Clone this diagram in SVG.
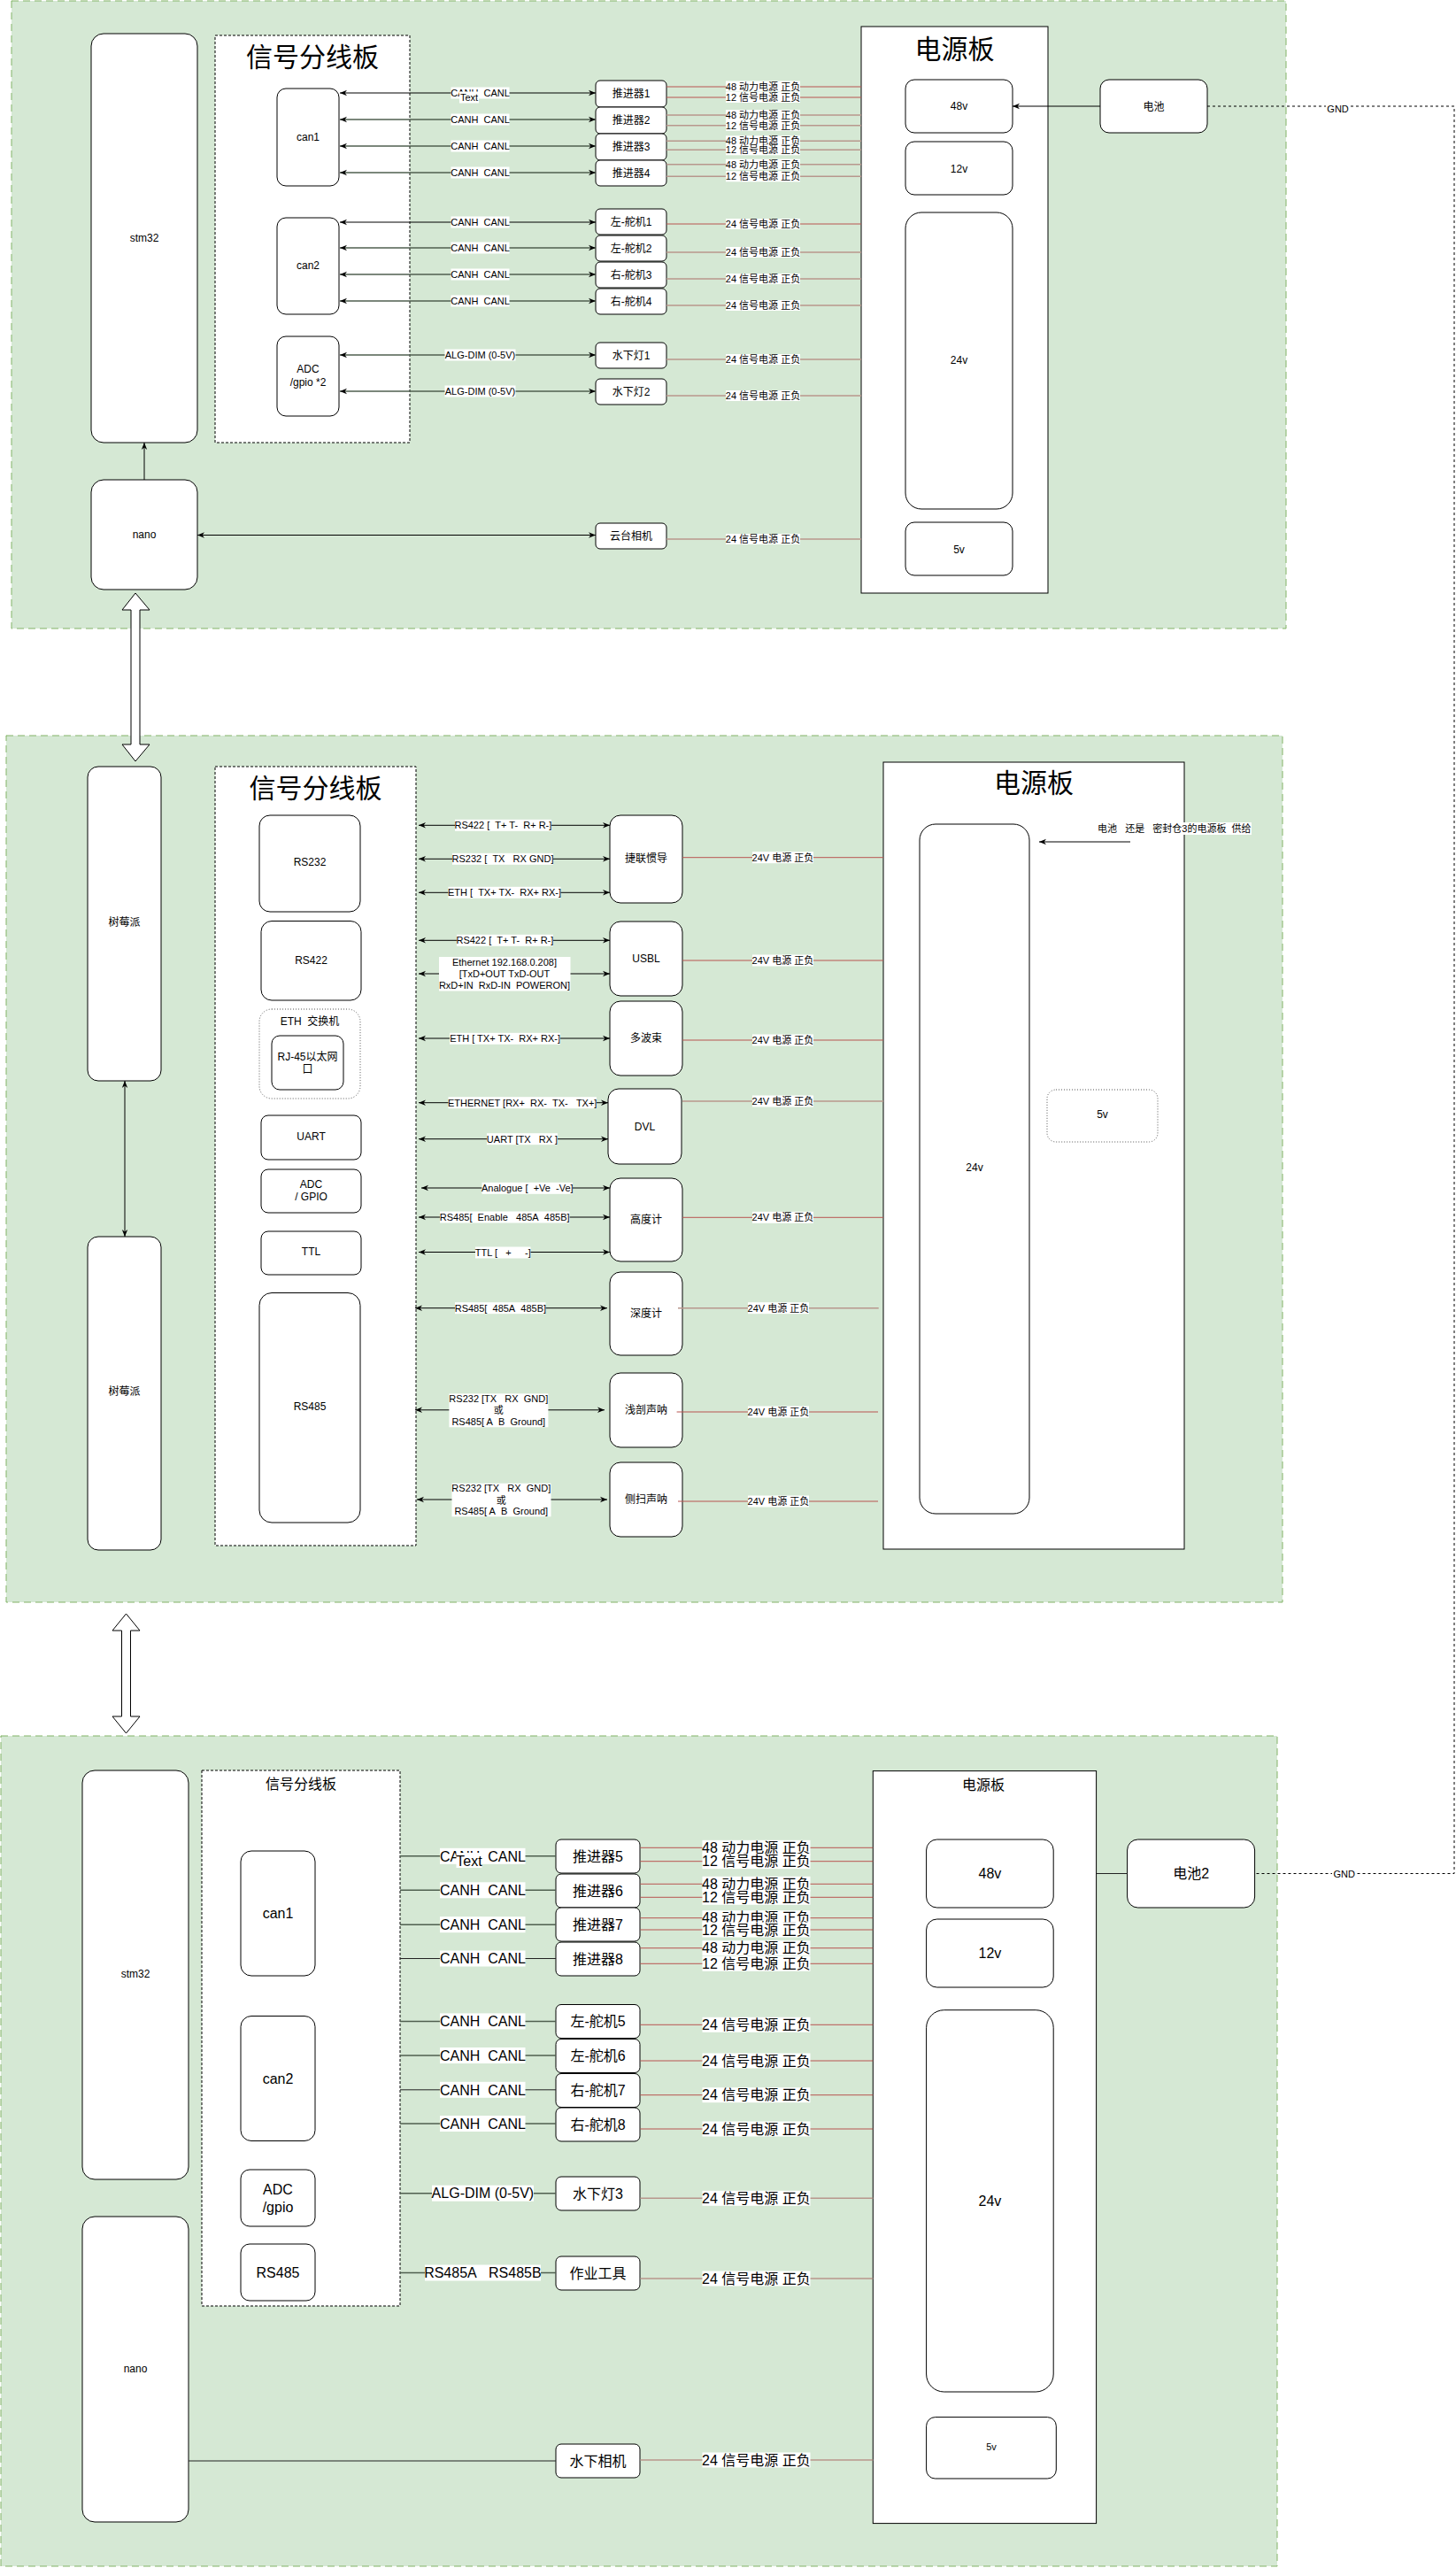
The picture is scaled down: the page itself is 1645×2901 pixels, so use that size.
<svg xmlns="http://www.w3.org/2000/svg" width="1645" height="2901" viewBox="0 0 1645 2901">
<style>
.cont{fill:#d5e8d4;stroke:#82b366;stroke-dasharray:8 5}
.board{fill:#fff;stroke:#000;stroke-dasharray:3 2}
.node{fill:#fff;stroke:#000}
.dot{fill:#fff;stroke:#555;stroke-dasharray:1 2}
.t{font-family:"Liberation Sans",Arial,"Noto Sans CJK SC",sans-serif;text-anchor:middle;fill:#000}
.ts{font-family:"Liberation Sans",Arial,"Noto Sans CJK SC",sans-serif;fill:#000}
.f11{font-size:11px}.f12{font-size:12px}.f16{font-size:16px}.f30{font-size:30px}
.sa{stroke:#000;fill:none;marker-start:url(#ar);marker-end:url(#ar)}
.sg{stroke:#4f5f4f;stroke-width:1.5;fill:none;marker-start:url(#ar);marker-end:url(#ar)}
.se{stroke:#000;fill:none;marker-end:url(#ar)}
.ln{stroke:#4f5f4f;stroke-width:1.5;fill:none}
.lnb{stroke:#222;fill:none}
.pw{stroke:#b85450;fill:none}
.pw2{stroke:#b8978d;stroke-width:1.5;fill:none}
.gnd{stroke:#000;fill:none;stroke-dasharray:3 3}
.bg{fill:#fff}
</style>
<defs>
<marker id="ar" viewBox="0 0 10 10" refX="10" refY="5" markerWidth="8" markerHeight="8" markerUnits="userSpaceOnUse" orient="auto-start-reverse"><path d="M0,1 L10,5 L0,9 L3,5 z" fill="#000"/></marker>
</defs>
<rect class="cont" x="13" y="1" width="1440" height="709"/>
<rect class="cont" x="7" y="831" width="1442" height="979"/>
<rect class="cont" x="1" y="1961" width="1442" height="938"/>
<g id="s1-board"><rect class="board" x="243" y="40" width="220" height="460"/><text class="t f30" x="353" y="75">信号分线板</text></g>
<g id="s1-power"><rect class="node" x="973" y="30" width="211" height="640"/><text class="t f30" x="1078.5" y="66">电源板</text></g>
<g id="s1-stm32"><rect class="node" x="103" y="38" width="120" height="462" rx="14"/><text class="t f12" x="163" y="273">stm32</text></g>
<g id="s1-nano"><rect class="node" x="103" y="542" width="120" height="124" rx="14"/><text class="t f12" x="163" y="608">nano</text></g>
<g id="s1-can1"><rect class="node" x="313" y="100" width="70" height="110" rx="10"/><text class="t f12" x="348" y="159">can1</text></g>
<g id="s1-can2"><rect class="node" x="313" y="246" width="70" height="109" rx="10"/><text class="t f12" x="348" y="304">can2</text></g>
<g id="s1-adc"><rect class="node" x="313" y="380" width="70" height="90" rx="10"/><text class="t f12" x="348" y="421">ADC</text><text class="t f12" x="348" y="436">/gpio *2</text></g>
<g id="s1-t1"><rect class="node" x="673" y="91" width="80" height="30" rx="5"/><text class="t f12" x="713" y="110">推进器1</text></g>
<g id="s1-t2"><rect class="node" x="673" y="121" width="80" height="30" rx="5"/><text class="t f12" x="713" y="140">推进器2</text></g>
<g id="s1-t3"><rect class="node" x="673" y="151" width="80" height="30" rx="5"/><text class="t f12" x="713" y="170">推进器3</text></g>
<g id="s1-t4"><rect class="node" x="673" y="181" width="80" height="29" rx="5"/><text class="t f12" x="713" y="200">推进器4</text></g>
<g id="s1-s1"><rect class="node" x="673" y="236" width="80" height="29" rx="5"/><text class="t f12" x="713" y="255">左-舵机1</text></g>
<g id="s1-s2"><rect class="node" x="673" y="266" width="80" height="29" rx="5"/><text class="t f12" x="713" y="285">左-舵机2</text></g>
<g id="s1-s3"><rect class="node" x="673" y="296" width="80" height="29" rx="5"/><text class="t f12" x="713" y="315">右-舵机3</text></g>
<g id="s1-s4"><rect class="node" x="673" y="326" width="80" height="29" rx="5"/><text class="t f12" x="713" y="345">右-舵机4</text></g>
<g id="s1-l1"><rect class="node" x="673" y="387" width="80" height="29" rx="5"/><text class="t f12" x="713" y="406">水下灯1</text></g>
<g id="s1-l2"><rect class="node" x="673" y="428" width="80" height="29" rx="5"/><text class="t f12" x="713" y="447">水下灯2</text></g>
<g id="s1-cam"><rect class="node" x="673" y="591" width="80" height="29" rx="5"/><text class="t f12" x="713" y="610">云台相机</text></g>
<g id="s1-48v"><rect class="node" x="1023" y="90" width="121" height="60" rx="10"/><text class="t f12" x="1083.5" y="124">48v</text></g>
<g id="s1-12v"><rect class="node" x="1023" y="160" width="121" height="60" rx="10"/><text class="t f12" x="1083.5" y="194.5">12v</text></g>
<g id="s1-24v"><rect class="node" x="1023" y="240" width="121" height="335" rx="18"/><text class="t f12" x="1083.5" y="411">24v</text></g>
<g id="s1-5v"><rect class="node" x="1023" y="590" width="121" height="60" rx="10"/><text class="t f12" x="1083.5" y="624.5">5v</text></g>
<g id="s1-bat"><rect class="node" x="1243" y="90" width="121" height="60" rx="10"/><text class="t f12" x="1303.5" y="124.5">电池</text></g>
<g id="s2-board"><rect class="board" x="243" y="866" width="227" height="880"/><text class="t f30" x="356.5" y="901">信号分线板</text></g>
<g id="s2-power"><rect class="node" x="998" y="861" width="340" height="889"/><text class="t f30" x="1168" y="895">电源板</text></g>
<g id="s2-rpi1"><rect class="node" x="99" y="866" width="83" height="355" rx="12"/><text class="t f12" x="140.5" y="1046">树莓派</text></g>
<g id="s2-rpi2"><rect class="node" x="99" y="1397" width="83" height="354" rx="12"/><text class="t f12" x="140.5" y="1576">树莓派</text></g>
<g id="s2-rs232"><rect class="node" x="293" y="921" width="114" height="109" rx="12"/><text class="t f12" x="350" y="978">RS232</text></g>
<g id="s2-rs422"><rect class="node" x="295" y="1040.5" width="113" height="89.5" rx="12"/><text class="t f12" x="351.5" y="1088.5">RS422</text></g>
<g id="s2-eth"><rect class="dot" x="293" y="1140" width="114" height="101" rx="14"/><text class="t f12" x="350" y="1158">ETH&#160;&#160;交换机</text><rect class="node" x="307" y="1170" width="81" height="61" rx="9"/><text class="t f12" x="347.5" y="1197.5">RJ-45以太网</text><text class="t f12" x="347.5" y="1211.5">口</text></g>
<g id="s2-uart"><rect class="node" x="295" y="1260" width="113" height="50" rx="8"/><text class="t f12" x="351.5" y="1288">UART</text></g>
<g id="s2-adc"><rect class="node" x="295" y="1321" width="113" height="49" rx="8"/><text class="t f12" x="351.5" y="1341.5">ADC</text><text class="t f12" x="351.5" y="1355.5">/ GPIO</text></g>
<g id="s2-ttl"><rect class="node" x="295" y="1391" width="113" height="49" rx="8"/><text class="t f12" x="351.5" y="1418">TTL</text></g>
<g id="s2-rs485"><rect class="node" x="293" y="1460.5" width="114" height="259.5" rx="14"/><text class="t f12" x="350" y="1593">RS485</text></g>
<g id="s2-ins"><rect class="node" x="689" y="921" width="82" height="99" rx="12"/><text class="t f12" x="730" y="974">捷联惯导</text></g>
<g id="s2-usbl"><rect class="node" x="689" y="1041" width="82" height="84" rx="12"/><text class="t f12" x="730" y="1087">USBL</text></g>
<g id="s2-mb"><rect class="node" x="689" y="1131" width="82" height="84" rx="12"/><text class="t f12" x="730" y="1177">多波束</text></g>
<g id="s2-dvl"><rect class="node" x="687" y="1230" width="83" height="85" rx="12"/><text class="t f12" x="728.5" y="1276.5">DVL</text></g>
<g id="s2-alt"><rect class="node" x="689" y="1331" width="82" height="94" rx="12"/><text class="t f12" x="730" y="1382">高度计</text></g>
<g id="s2-depth"><rect class="node" x="689" y="1437" width="82" height="94" rx="12"/><text class="t f12" x="730" y="1488">深度计</text></g>
<g id="s2-sbp"><rect class="node" x="689" y="1551" width="82" height="84" rx="12"/><text class="t f12" x="730" y="1597">浅剖声呐</text></g>
<g id="s2-sss"><rect class="node" x="689" y="1652" width="82" height="84" rx="12"/><text class="t f12" x="730" y="1698">侧扫声呐</text></g>
<g id="s2-24v"><rect class="node" x="1039" y="931" width="124" height="779" rx="18"/><text class="t f12" x="1101" y="1323">24v</text></g>
<g id="s2-5v"><rect class="dot" x="1183" y="1231" width="125" height="59" rx="10"/><text class="t f12" x="1245.5" y="1263">5v</text></g>
<g id="s2-note"><rect class="bg" x="1238" y="929" width="176" height="14"/><text class="ts f11" x="1240" y="940">电池&#160;&#160;&#160;还是&#160;&#160;&#160;密封仓3的电源板&#160;&#160;供给</text></g>
<g id="s3-board"><rect class="board" x="228" y="2000" width="224" height="605"/><text class="t f16" x="340" y="2021">信号分线板</text></g>
<g id="s3-power"><rect class="node" x="986.3" y="2000.6" width="252.3" height="850"/><text class="t f16" x="1111" y="2022">电源板</text></g>
<g id="s3-stm32"><rect class="node" x="93" y="2000" width="120" height="462" rx="14"/><text class="t f12" x="153" y="2234">stm32</text></g>
<g id="s3-nano"><rect class="node" x="93" y="2504" width="120" height="345" rx="14"/><text class="t f12" x="153" y="2680">nano</text></g>
<g id="s3-can1"><rect class="node" x="272" y="2091" width="84" height="141" rx="12"/><text class="t f16" x="314" y="2166.5">can1</text></g>
<g id="s3-can2"><rect class="node" x="272" y="2277.5" width="84" height="141" rx="12"/><text class="t f16" x="314" y="2353.5">can2</text></g>
<g id="s3-adc"><rect class="node" x="272" y="2451" width="84" height="64" rx="10"/><text class="t f16" x="314" y="2478.5">ADC</text><text class="t f16" x="314" y="2498.5">/gpio</text></g>
<g id="s3-rs485"><rect class="node" x="272" y="2535" width="84" height="64" rx="10"/><text class="t f16" x="314" y="2572.5">RS485</text></g>
<g id="s3-t5"><rect class="node" x="628" y="2078" width="95" height="38" rx="6"/><text class="t f16" x="675.5" y="2102.5">推进器5</text></g>
<g id="s3-t6"><rect class="node" x="628" y="2117" width="95" height="38" rx="6"/><text class="t f16" x="675.5" y="2141.5">推进器6</text></g>
<g id="s3-t7"><rect class="node" x="628" y="2155" width="95" height="38" rx="6"/><text class="t f16" x="675.5" y="2179.5">推进器7</text></g>
<g id="s3-t8"><rect class="node" x="628" y="2194" width="95" height="38" rx="6"/><text class="t f16" x="675.5" y="2218.5">推进器8</text></g>
<g id="s3-s5"><rect class="node" x="628" y="2264.5" width="95" height="38" rx="6"/><text class="t f16" x="675.5" y="2289">左-舵机5</text></g>
<g id="s3-s6"><rect class="node" x="628" y="2303.5" width="95" height="38" rx="6"/><text class="t f16" x="675.5" y="2328">左-舵机6</text></g>
<g id="s3-s7"><rect class="node" x="628" y="2342.5" width="95" height="38" rx="6"/><text class="t f16" x="675.5" y="2367">右-舵机7</text></g>
<g id="s3-s8"><rect class="node" x="628" y="2381" width="95" height="38" rx="6"/><text class="t f16" x="675.5" y="2405.5">右-舵机8</text></g>
<g id="s3-l3"><rect class="node" x="628" y="2459" width="95" height="38" rx="6"/><text class="t f16" x="675.5" y="2483.5">水下灯3</text></g>
<g id="s3-tool"><rect class="node" x="628" y="2549" width="95" height="38" rx="6"/><text class="t f16" x="675.5" y="2573.5">作业工具</text></g>
<g id="s3-cam"><rect class="node" x="628" y="2761" width="95" height="38" rx="6"/><text class="t f16" x="675.5" y="2785.5">水下相机</text></g>
<g id="s3-48v"><rect class="node" x="1046.6" y="2078" width="143.6" height="77" rx="12"/><text class="t f16" x="1118.4" y="2122">48v</text></g>
<g id="s3-12v"><rect class="node" x="1046.6" y="2168" width="143.6" height="77" rx="12"/><text class="t f16" x="1118.4" y="2212">12v</text></g>
<g id="s3-24v"><rect class="node" x="1046.6" y="2270.7" width="143.6" height="431.3" rx="20"/><text class="t f16" x="1118.4" y="2492">24v</text></g>
<g id="s3-5v"><rect class="node" x="1046.6" y="2730.6" width="146.7" height="69.4" rx="10"/><text class="t f11" x="1120" y="2768">5v</text></g>
<g id="s3-bat"><rect class="node" x="1273.6" y="2078" width="144" height="77" rx="12"/><text class="t f16" x="1345.6" y="2122">电池2</text></g>
<g id="connectors">
<polygon points="153,670 169,689 158,689 158,841 169,841 153,860 138,841 148,841 148,689 138,689" fill="#fff" stroke="#000"/>
<polygon points="142.5,1823 158,1842 147.5,1842 147.5,1939 158,1939 142.5,1958 127,1939 137.5,1939 137.5,1842 127,1842" fill="#fff" stroke="#000"/>
<path class="se" d="M163,542V500"/>
<path class="sa" d="M384,105H673"/>
<path class="sg" d="M384,135H673"/>
<path class="sg" d="M384,165H673"/>
<path class="sg" d="M384,195H673"/>
<path class="sa" d="M384,251H673"/>
<path class="sg" d="M384,280H673"/>
<path class="sg" d="M384,310H673"/>
<path class="sg" d="M384,340H673"/>
<path class="sg" d="M384,401H673"/>
<path class="sg" d="M384,442H673"/>
<path class="sa" d="M223,604.5H673"/>
<path class="se" d="M1243,120H1144"/>
<path class="gnd" d="M1364,120H1643V2116.5H1418"/>
<path class="pw" d="M753,98H973"/><path class="pw" d="M753,110H973"/>
<path class="pw2" d="M753,130H973"/><path class="pw2" d="M753,141.7H973"/>
<path class="pw2" d="M753,159.3H973"/><path class="pw2" d="M753,169.3H973"/>
<path class="pw2" d="M753,185.7H973"/><path class="pw2" d="M753,199.3H973"/>
<path class="pw" d="M753,253H973"/><path class="pw2" d="M753,285H973"/>
<path class="pw2" d="M753,315H973"/><path class="pw2" d="M753,345H973"/>
<path class="pw2" d="M753,406H973"/><path class="pw2" d="M753,447H973"/>
<path class="pw2" d="M753,609H973"/>
<g class="t f11">
<rect class="bg" x="509.5" y="98.5" width="66" height="13"/><text x="542.5" y="109">CANH&#160;&#160;CANL</text>
<rect class="bg" x="519" y="103.5" width="22" height="13"/><text x="530" y="114">Text</text>
<rect class="bg" x="509.5" y="128.5" width="66" height="13"/><text x="542.5" y="139">CANH&#160;&#160;CANL</text>
<rect class="bg" x="509.5" y="158.5" width="66" height="13"/><text x="542.5" y="169">CANH&#160;&#160;CANL</text>
<rect class="bg" x="509.5" y="188.5" width="66" height="13"/><text x="542.5" y="199">CANH&#160;&#160;CANL</text>
<rect class="bg" x="509.5" y="244.5" width="66" height="13"/><text x="542.5" y="255">CANH&#160;&#160;CANL</text>
<rect class="bg" x="509.5" y="273.5" width="66" height="13"/><text x="542.5" y="284">CANH&#160;&#160;CANL</text>
<rect class="bg" x="509.5" y="303.5" width="66" height="13"/><text x="542.5" y="314">CANH&#160;&#160;CANL</text>
<rect class="bg" x="509.5" y="333.5" width="66" height="13"/><text x="542.5" y="344">CANH&#160;&#160;CANL</text>
<rect class="bg" x="502.5" y="394.5" width="80" height="13"/><text x="542.5" y="405">ALG-DIM (0-5V)</text>
<rect class="bg" x="502.5" y="435.5" width="80" height="13"/><text x="542.5" y="446">ALG-DIM (0-5V)</text>
<rect class="bg" x="820" y="91.5" width="84" height="12"/><text x="862" y="102">48 动力电源 正负</text>
<rect class="bg" x="820" y="104" width="84" height="12"/><text x="862" y="114">12 信号电源 正负</text>
<rect class="bg" x="820" y="124" width="84" height="12"/><text x="862" y="134">48 动力电源 正负</text>
<rect class="bg" x="820" y="135.7" width="84" height="12"/><text x="862" y="145.7">12 信号电源 正负</text>
<rect class="bg" x="820" y="153.3" width="84" height="12"/><text x="862" y="163.3">48 动力电源 正负</text>
<rect class="bg" x="820" y="163.3" width="84" height="12"/><text x="862" y="173.3">12 信号电源 正负</text>
<rect class="bg" x="820" y="179.7" width="84" height="12"/><text x="862" y="189.7">48 动力电源 正负</text>
<rect class="bg" x="820" y="193.3" width="84" height="12"/><text x="862" y="203.3">12 信号电源 正负</text>
<rect class="bg" x="820" y="247" width="84" height="12"/><text x="862" y="257">24 信号电源 正负</text>
<rect class="bg" x="820" y="279" width="84" height="12"/><text x="862" y="289">24 信号电源 正负</text>
<rect class="bg" x="820" y="309" width="84" height="12"/><text x="862" y="319">24 信号电源 正负</text>
<rect class="bg" x="820" y="339" width="84" height="12"/><text x="862" y="349">24 信号电源 正负</text>
<rect class="bg" x="820" y="400" width="84" height="12"/><text x="862" y="410">24 信号电源 正负</text>
<rect class="bg" x="820" y="441" width="84" height="12"/><text x="862" y="451">24 信号电源 正负</text>
<rect class="bg" x="820" y="603" width="84" height="12"/><text x="862" y="613">24 信号电源 正负</text>
<rect class="bg" x="1498" y="117" width="27" height="13"/><text x="1511.6" y="127">GND</text>
<rect class="bg" x="1505" y="2110" width="27" height="13"/><text x="1518.7" y="2120.5">GND</text>
</g>
<path class="sa" d="M141,1221V1397"/>
<path class="sa" d="M473,932.3H689"/>
<path class="sa" d="M473,970.3H689"/>
<path class="sa" d="M473,1008.3H689"/>
<path class="sa" d="M473,1062.3H689"/>
<path class="sa" d="M473,1100H689"/>
<path class="sa" d="M473,1173H689"/>
<path class="sa" d="M473,1245.7H687"/>
<path class="sa" d="M473,1286.7H687"/>
<path class="sa" d="M476,1342H689"/>
<path class="sa" d="M473,1375H689"/>
<path class="sa" d="M473,1414.5H689"/>
<path class="sa" d="M469,1477.7H686"/>
<path class="sa" d="M469,1592.8H683"/>
<path class="sa" d="M471,1694H686"/>
<path class="se" d="M1277,951H1174"/>
<path class="pw" d="M771,968.7H998"/>
<path class="pw" d="M771,1085H998"/>
<path class="pw" d="M771,1175H998"/>
<path class="pw2" d="M771,1244H998"/>
<path class="pw" d="M771,1375.3H998"/>
<path class="pw2" d="M766,1477.7H992.7"/>
<path class="pw" d="M764.6,1595H992"/>
<path class="pw" d="M766,1696H992"/>
<g class="t f11">
<rect class="bg" x="514" y="925.8" width="109" height="13"/><text x="568.4" y="936.3">RS422 [&#160;&#160;T+ T-&#160;&#160;R+ R-]</text>
<rect class="bg" x="511" y="963.8" width="114" height="13"/><text x="568" y="974.3">RS232 [&#160;&#160;TX&#160;&#160;&#160;RX GND]</text>
<rect class="bg" x="506.5" y="1001.8" width="127" height="13"/><text x="570" y="1012.3">ETH [&#160;&#160;TX+ TX-&#160;&#160;RX+ RX-]</text>
<rect class="bg" x="516" y="1055.8" width="109" height="13"/><text x="570.4" y="1066.3">RS422 [&#160;&#160;T+ T-&#160;&#160;R+ R-]</text>
<rect class="bg" x="496" y="1081" width="148.5" height="38.5"/>
<text x="570" y="1091.3">Ethernet 192.168.0.208]</text><text x="570" y="1104">[TxD+OUT TxD-OUT</text><text x="570" y="1117.3">RxD+IN&#160;&#160;RxD-IN&#160;&#160;POWERON]</text>
<rect class="bg" x="508" y="1166.8" width="125" height="13"/><text x="570.6" y="1177.3">ETH [ TX+ TX-&#160;&#160;RX+ RX-]</text>
<rect class="bg" x="506.5" y="1239.2" width="167.5" height="13"/><text x="590.2" y="1249.7">ETHERNET [RX+&#160;&#160;RX-&#160;&#160;TX-&#160;&#160;&#160;TX+]</text>
<rect class="bg" x="550" y="1280.2" width="80" height="13"/><text x="590" y="1290.7">UART [TX&#160;&#160;&#160;RX ]</text>
<rect class="bg" x="544.5" y="1335.8" width="102.5" height="13"/><text x="595.8" y="1346.3">Analogue [&#160;&#160;+Ve&#160;&#160;-Ve]</text>
<rect class="bg" x="497" y="1368.5" width="146.5" height="13"/><text x="570.2" y="1379">RS485[&#160;&#160;Enable&#160;&#160;&#160;485A&#160;&#160;485B]</text>
<rect class="bg" x="537" y="1408.5" width="62.5" height="13"/><text x="568.3" y="1419">TTL [&#160;&#160;&#160;+&#160;&#160;&#160;&#160;&#160;-]</text>
<rect class="bg" x="514" y="1471.2" width="102.5" height="13"/><text x="565.4" y="1481.7">RS485[&#160;&#160;485A&#160;&#160;485B]</text>
<rect class="bg" x="507.4" y="1574.3" width="112" height="38"/>
<text x="563.3" y="1584">RS232 [TX&#160;&#160;&#160;RX&#160;&#160;GND]</text><text x="563.3" y="1597.3">或</text><text x="563.3" y="1610">RS485[ A&#160;&#160;B&#160;&#160;Ground]</text>
<rect class="bg" x="510.5" y="1675.7" width="112" height="37.6"/>
<text x="566.3" y="1684.7">RS232 [TX&#160;&#160;&#160;RX&#160;&#160;GND]</text><text x="566.3" y="1698.7">或</text><text x="566.3" y="1710.7">RS485[ A&#160;&#160;B&#160;&#160;Ground]</text>
<rect class="bg" x="850" y="962.2" width="69" height="13"/><text x="884.4" y="972.7">24V 电源 正负</text>
<rect class="bg" x="850" y="1078.5" width="69" height="13"/><text x="884.4" y="1089">24V 电源 正负</text>
<rect class="bg" x="850" y="1168.5" width="69" height="13"/><text x="884.4" y="1179">24V 电源 正负</text>
<rect class="bg" x="850" y="1237.5" width="69" height="13"/><text x="884.4" y="1248">24V 电源 正负</text>
<rect class="bg" x="850" y="1368.8" width="69" height="13"/><text x="884.4" y="1379.3">24V 电源 正负</text>
<rect class="bg" x="845" y="1471.2" width="69" height="13"/><text x="879.4" y="1481.7">24V 电源 正负</text>
<rect class="bg" x="845" y="1588.5" width="69" height="13"/><text x="879.4" y="1599">24V 电源 正负</text>
<rect class="bg" x="845" y="1689.5" width="69" height="13"/><text x="879.4" y="1700">24V 电源 正负</text>
</g>
<path class="ln" d="M452,2096.8H628"/>
<path class="ln" d="M452,2135.3H628"/>
<path class="ln" d="M452,2174.2H628"/>
<path class="lnb" d="M452,2212.5H628"/>
<path class="ln" d="M452,2283.4H628"/>
<path class="ln" d="M452,2322H628"/>
<path class="lnb" d="M452,2360.8H628"/>
<path class="ln" d="M452,2399H628"/>
<path class="ln" d="M452,2477.7H628"/>
<path class="ln" d="M452,2567.5H628"/>
<path class="lnb" d="M213,2780H628"/>
<path class="lnb" d="M1238.6,2116.5H1273.6"/>
<path class="pw" d="M723.4,2087.3H986.3"/><path class="pw" d="M723.4,2102.7H986.3"/>
<path class="pw" d="M723.4,2128.3H986.3"/><path class="pw" d="M723.4,2143.3H986.3"/>
<path class="pw" d="M723.4,2166.7H986.3"/><path class="pw" d="M723.4,2180H986.3"/>
<path class="pw" d="M723.4,2200.7H986.3"/><path class="pw" d="M723.4,2218.3H986.3"/>
<path class="pw" d="M723.4,2287.3H986.3"/><path class="pw" d="M723.4,2328H986.3"/>
<path class="pw" d="M723.4,2366.7H986.3"/><path class="pw" d="M723.4,2405H986.3"/>
<path class="pw2" d="M723.4,2483.3H986.3"/><path class="pw2" d="M723.4,2574H986.3"/>
<path class="pw2" d="M723.4,2779H986.3"/>
<g class="t f16">
<rect class="bg" x="497" y="2087.8" width="96.5" height="18"/><text x="545.4" y="2102.5">CANH&#160;&#160;CANL</text>
<rect class="bg" x="515.5" y="2093" width="29" height="17"/><text x="530" y="2107.5">Text</text>
<rect class="bg" x="497" y="2126.3" width="96.5" height="18"/><text x="545.4" y="2141">CANH&#160;&#160;CANL</text>
<rect class="bg" x="497" y="2165.2" width="96.5" height="18"/><text x="545.4" y="2179.9">CANH&#160;&#160;CANL</text>
<rect class="bg" x="497" y="2203.5" width="96.5" height="18"/><text x="545.4" y="2218.2">CANH&#160;&#160;CANL</text>
<rect class="bg" x="497" y="2274.4" width="96.5" height="18"/><text x="545.4" y="2289.1">CANH&#160;&#160;CANL</text>
<rect class="bg" x="497" y="2313" width="96.5" height="18"/><text x="545.4" y="2327.7">CANH&#160;&#160;CANL</text>
<rect class="bg" x="497" y="2351.8" width="96.5" height="18"/><text x="545.4" y="2366.5">CANH&#160;&#160;CANL</text>
<rect class="bg" x="497" y="2390" width="96.5" height="18"/><text x="545.4" y="2404.7">CANH&#160;&#160;CANL</text>
<rect class="bg" x="488" y="2468.7" width="115" height="18"/><text x="545.4" y="2483.4">ALG-DIM (0-5V)</text>
<rect class="bg" x="480" y="2558.5" width="131" height="18"/><text x="545.4" y="2573.2">RS485A&#160;&#160;&#160;RS485B</text>
<rect class="bg" x="793.5" y="2078.8" width="122" height="17"/><text x="854.4" y="2093">48 动力电源 正负</text>
<rect class="bg" x="793.5" y="2094.2" width="122" height="17"/><text x="854.4" y="2108.4">12 信号电源 正负</text>
<rect class="bg" x="793.5" y="2119.8" width="122" height="17"/><text x="854.4" y="2134">48 动力电源 正负</text>
<rect class="bg" x="793.5" y="2134.8" width="122" height="17"/><text x="854.4" y="2149">12 信号电源 正负</text>
<rect class="bg" x="793.5" y="2158.2" width="122" height="17"/><text x="854.4" y="2172.4">48 动力电源 正负</text>
<rect class="bg" x="793.5" y="2171.5" width="122" height="17"/><text x="854.4" y="2185.7">12 信号电源 正负</text>
<rect class="bg" x="793.5" y="2192.2" width="122" height="17"/><text x="854.4" y="2206.4">48 动力电源 正负</text>
<rect class="bg" x="793.5" y="2209.8" width="122" height="17"/><text x="854.4" y="2224">12 信号电源 正负</text>
<rect class="bg" x="793.5" y="2278.8" width="122" height="17"/><text x="854.4" y="2293">24 信号电源 正负</text>
<rect class="bg" x="793.5" y="2319.5" width="122" height="17"/><text x="854.4" y="2333.7">24 信号电源 正负</text>
<rect class="bg" x="793.5" y="2358.2" width="122" height="17"/><text x="854.4" y="2372.4">24 信号电源 正负</text>
<rect class="bg" x="793.5" y="2396.5" width="122" height="17"/><text x="854.4" y="2410.7">24 信号电源 正负</text>
<rect class="bg" x="793.5" y="2474.8" width="122" height="17"/><text x="854.4" y="2489">24 信号电源 正负</text>
<rect class="bg" x="793.5" y="2565.5" width="122" height="17"/><text x="854.4" y="2579.7">24 信号电源 正负</text>
<rect class="bg" x="793.5" y="2770.5" width="122" height="17"/><text x="854.4" y="2784.7">24 信号电源 正负</text>
</g>
</g>
</svg>
